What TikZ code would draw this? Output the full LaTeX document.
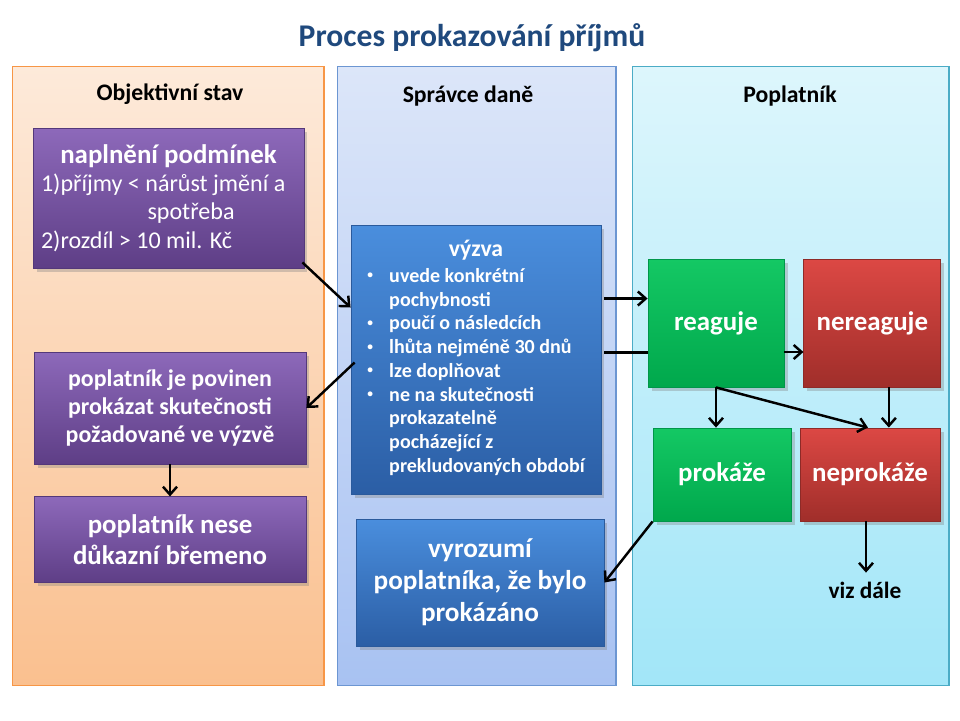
\documentclass[tikz,border=0pt]{standalone}
\usepackage{fontspec}
\setmainfont{Carlito}
\usepackage{xcolor}
\usetikzlibrary{arrows.meta,positioning,calc,shadows}
\definecolor{TitleBlue}{HTML}{1F497D}
\definecolor{ObjTop}{HTML}{FDEADA}
\definecolor{ObjBot}{HTML}{FAC08F}
\definecolor{ObjEdge}{HTML}{F79646}
\definecolor{SprTop}{HTML}{DCE6F9}
\definecolor{SprBot}{HTML}{A8C2F2}
\definecolor{SprEdge}{HTML}{6C96D2}
\definecolor{PopTop}{HTML}{DDF6FC}
\definecolor{PopBot}{HTML}{A2E6F8}
\definecolor{PopEdge}{HTML}{4BACC6}
\definecolor{PurpleTop}{HTML}{8D69BA}
\definecolor{PurpleBot}{HTML}{5E3E86}
\definecolor{PurpleEdge}{HTML}{54387A}
\definecolor{BlueTop}{HTML}{4A8EDD}
\definecolor{BlueBot}{HTML}{2B5EA5}
\definecolor{BlueEdge}{HTML}{2A5A9C}
\definecolor{GreenTop}{HTML}{14C864}
\definecolor{GreenBot}{HTML}{00A84C}
\definecolor{GreenEdge}{HTML}{00964A}
\definecolor{RedTop}{HTML}{DC4844}
\definecolor{RedBot}{HTML}{A02E2A}
\definecolor{RedEdge}{HTML}{8E2A27}
\tikzset{
 lane/.style={draw, line width=0.6pt, minimum height=12.4cm},
 objlane/.style={lane, draw=ObjEdge, top color=ObjTop, bottom color=ObjBot, minimum width=6.24cm},
 sprlane/.style={lane, draw=SprEdge, top color=SprTop, bottom color=SprBot, minimum width=5.58cm},
 poplane/.style={lane, draw=PopEdge, top color=PopTop, bottom color=PopBot, minimum width=6.34cm},
 lanehead/.style={font=\bfseries\fontsize{13.5}{16}\selectfont, text=black},
 box/.style={align=center, text=white, inner sep=3pt, line width=0.5pt, font=\bfseries\fontsize{15.3}{17.6}\selectfont, drop shadow={shadow xshift=2pt, shadow yshift=-2pt, opacity=0.35}},
 purplebox/.style={box, draw=PurpleEdge, top color=PurpleTop, bottom color=PurpleBot},
 bluebox/.style={box, draw=BlueEdge, top color=BlueTop, bottom color=BlueBot},
 greenbox/.style={box, draw=GreenEdge, top color=GreenTop, bottom color=GreenBot},
 redbox/.style={box, draw=RedEdge, top color=RedTop, bottom color=RedBot},
 arrow/.style={-{Straight Barb[length=4.5pt,width=8pt]}, line width=1.4pt, line join=round, draw=black},
 plainline/.style={line width=1.4pt, draw=black}
}
\newcommand{\smallbullet}{\raisebox{0.18em}{\fontsize{6.5}{7}\selectfont\textbullet}}
\begin{document}
\begin{tikzpicture}[x=0.02cm,y=-0.02cm]
\useasboundingbox[fill=white] (0,0) rectangle (960,720);

\node[font=\bfseries\fontsize{18}{22}\selectfont, text=TitleBlue] (title) at (472,38) {Proces prokazování příjmů};

% lanes
\node[objlane] (objlane) at (168,376) {};
\node[sprlane] (sprlane) at (476.5,376) {};
\node[poplane] (poplane) at (790.5,376) {};
\node[lanehead] (objhead) at (170,94) {Objektivní stav};
\node[lanehead] (sprhead) at (468,96) {Správce daně};
\node[lanehead] (pophead) at (790,96) {Poplatník};

% objektivni stav
\node[purplebox, minimum width=5.42cm, minimum height=2.8cm, font=\fontsize{13.7}{16.2}\selectfont] (podminky) at (168.5,198)
 {{\bfseries\fontsize{15.3}{16.2}\selectfont naplnění podmínek}\\
  \makebox[5.1cm][l]{1)příjmy < nárůst jmění a}\\
  \makebox[5.1cm][l]{\hspace{2.13cm}spotřeba}\\
  \makebox[5.1cm][l]{2)rozdíl > 10 mil. Kč}};
\node[purplebox, minimum width=5.44cm, minimum height=2.24cm, font=\bfseries\fontsize{13.6}{16.2}\selectfont] (povinen) at (170,408)
 {poplatník je povinen\\prokázat skutečnosti\\požadované ve výzvě};
\node[purplebox, minimum width=5.44cm, minimum height=1.72cm, below=0.64cm of povinen] (nese) {poplatník nese\\důkazní břemeno};

% spravce dane
\node[bluebox, minimum width=5cm, minimum height=5.38cm] (vyzva) at (476,360)
 {{\fontsize{13.5}{16}\selectfont výzva}\\[2pt]
  {\fontsize{11.4}{13.5}\selectfont\begin{tabular}{@{}p{0.44cm}@{}l@{}}
   \smallbullet & uvede konkrétní\\
                & pochybnosti\\
   \smallbullet & poučí o následcích\\
   \smallbullet & lhůta nejméně 30 dnů\\
   \smallbullet & lze doplňovat\\
   \smallbullet & ne na skutečnosti\\
                & prokazatelně\\
                & pocházející z\\
                & prekludovaných období
  \end{tabular}}};
\node[bluebox, minimum width=4.96cm, minimum height=2.54cm, font=\bfseries\fontsize{15.5}{18.2}\selectfont] (vyrozumi) at (480,582.5)
 {vyrozumí\\poplatníka, že bylo\\prokázáno};

% poplatnik
\node[greenbox, minimum width=2.72cm, minimum height=2.56cm] (reaguje) at (716,323) {reaguje};
\node[redbox, minimum width=2.74cm, minimum height=2.56cm, right=0.38cm of reaguje] (nereaguje) {nereaguje};
\node[greenbox, minimum width=2.76cm, minimum height=1.86cm] (prokaze) at (722,474.5) {prokáže};
\node[redbox, minimum width=2.8cm, minimum height=1.86cm] (neprokaze) at (870,474.5) {neprokáže};
\node[font=\bfseries\fontsize{13.3}{16}\selectfont, inner sep=5pt] (vizdale) at (865,590) {viz dále};

% sipky
\draw[arrow] ([shift={(-0.04cm,0.12cm)}]podminky.south east) -- ([yshift=1.05cm]vyzva.west);
\draw[arrow] ([shift={(0.08cm,-0.05cm)}]vyzva.west) -- (povinen.east);
\draw[arrow] (povinen) -- (nese);
\draw[arrow] ([shift={(0.06cm,1.23cm)}]vyzva.east) coordinate (v1) -- (v1 -| reaguje.west);
\draw[plainline] ([shift={(0.06cm,0.15cm)}]vyzva.east) coordinate (v2) -- (v2 -| reaguje.west);
\draw[arrow] ([yshift=-0.58cm]reaguje.east) coordinate (r1) -- (r1 -| nereaguje.west);
\draw[arrow] (reaguje.south) -- (reaguje.south |- prokaze.north);
\draw[arrow] (reaguje.south) -- ([xshift=-0.04cm]neprokaze.north);
\draw[arrow] ([xshift=0.33cm]nereaguje.south) coordinate (n1) -- (n1 |- neprokaze.north);
\draw[arrow] (prokaze.south west) -- (vyrozumi.east);
\draw[arrow] ([xshift=-0.08cm]neprokaze.south) coordinate (n2) -- (n2 |- vizdale.north);
\end{tikzpicture}
\end{document}
